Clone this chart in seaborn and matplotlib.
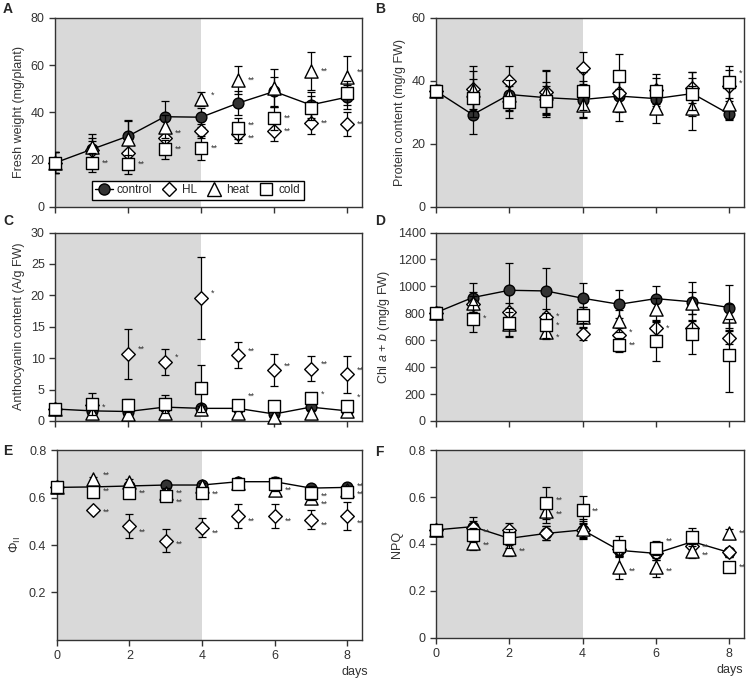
import numpy as np
import pandas as pd
import seaborn as sns
import matplotlib.pyplot as plt
from matplotlib.lines import Line2D

sns.set_style("ticks")
plt.rcParams['font.family'] = ['Liberation Sans', 'DejaVu Sans']
plt.rcParams['mathtext.fontset'] = 'custom'
plt.rcParams['mathtext.rm'] = 'Liberation Sans'
plt.rcParams['mathtext.it'] = 'Liberation Sans:italic'

days = [0, 1, 2, 3, 4, 5, 6, 7, 8]
series_names = ['control', 'HL', 'heat', 'cold']

# A: fresh weight
fw_ctrl = [18.7, 24.4, 30.0, 38.2, 38.0, 43.9, 48.9, 43.2, 46.5]
fw_hl = [18.7, 24.0, 23.0, 29.3, 32.1, 31.0, 32.1, 35.4, 35.1]
fw_heat = [18.7, 25.5, 28.6, 34.0, 45.6, 53.8, 50.3, 57.5, 55.2]
fw_cold = [18.7, 18.7, 18.1, 24.4, 25.0, 33.3, 37.5, 41.8, 48.2]
fw_ctrl_sd = [4.5, 5.0, 7.0, 6.5, 4.0, 5.0, 6.0, 5.5, 5.0]
fw_hl_sd = [4.5, 4.0, 4.0, 4.0, 3.0, 4.0, 4.0, 4.5, 5.0]
fw_heat_sd = [4.5, 5.5, 8.0, 5.0, 3.0, 6.0, 8.0, 8.0, 8.5]
fw_cold_sd = [4.5, 4.0, 4.0, 4.0, 5.0, 4.5, 5.0, 5.0, 5.0]

# B: protein
pr_ctrl = [36.8, 29.3, 35.7, 34.7, 34.1, 35.2, 34.4, 36.0, 29.5]
pr_hl = [36.8, 37.6, 39.9, 36.5, 44.1, 36.3, 37.2, 37.9, 38.5]
pr_heat = [36.8, 37.2, 35.4, 36.2, 32.5, 32.3, 31.5, 31.5, 32.8]
pr_cold = [36.8, 34.6, 33.3, 33.5, 36.7, 41.5, 36.8, 35.8, 39.7]
pr_ctrl_sd = [2, 6, 5, 5, 6, 5, 4, 7, 2]
pr_hl_sd = [2, 7, 5, 7, 5, 5, 5, 5, 5]
pr_heat_sd = [2, 6, 5, 7, 4, 5, 5, 7, 5]
pr_cold_sd = [2, 6, 5, 5, 6, 7, 4, 5, 5]

# C: anthocyanin
an_ctrl = [1.9, 1.6, 1.5, 2.2, 2.0, 2.0, 1.1, 2.2, 1.6]
an_hl = [1.9, 2.5, 10.7, 9.4, 19.6, 10.5, 8.1, 8.3, 7.4]
an_heat = [1.9, 1.3, 1.1, 1.3, 1.9, 1.2, 0.7, 1.3, 1.6]
an_cold = [1.9, 2.7, 2.5, 2.7, 5.2, 2.6, 2.4, 3.6, 2.4]
an_ctrl_sd = [0.3, 0.5, 0.5, 0.5, 0.5, 0.5, 0.4, 0.5, 0.5]
an_hl_sd = [0.3, 1.0, 4.0, 2.1, 6.5, 2.0, 2.6, 2.0, 3.0]
an_heat_sd = [0.3, 0.5, 0.4, 0.5, 0.5, 0.4, 0.3, 0.5, 0.5]
an_cold_sd = [0.3, 1.8, 1.0, 1.5, 3.7, 0.6, 0.5, 0.8, 0.6]

# D: chlorophyll
ch_ctrl = [805, 917, 971, 966, 912, 867, 909, 885, 843]
ch_hl = [805, 867, 810, 770, 649, 637, 687, 690, 620]
ch_heat = [805, 880, 720, 660, 770, 744, 830, 875, 781]
ch_cold = [805, 761, 731, 710, 786, 563, 595, 645, 488]
ch_ctrl_sd = [40, 110, 200, 170, 110, 105, 95, 145, 165]
ch_hl_sd = [40, 60, 70, 60, 50, 50, 50, 60, 50]
ch_heat_sd = [40, 80, 90, 50, 80, 80, 80, 80, 90]
ch_cold_sd = [40, 100, 110, 90, 60, 50, 150, 150, 270]

# E: PhiII
ph_ctrl = [0.643, 0.645, 0.649, 0.653, 0.653, 0.667, 0.667, 0.640, 0.643]
ph_hl = [0.643, 0.548, 0.479, 0.419, 0.472, 0.523, 0.523, 0.506, 0.523]
ph_heat = [0.643, 0.678, 0.667, 0.620, 0.650, 0.660, 0.630, 0.600, 0.630]
ph_cold = [0.643, 0.625, 0.618, 0.605, 0.618, 0.656, 0.656, 0.618, 0.625]
ph_ctrl_sd = [0.01, 0.01, 0.01, 0.01, 0.01, 0.01, 0.01, 0.01, 0.01]
ph_hl_sd = [0.01, 0.01, 0.05, 0.05, 0.04, 0.05, 0.05, 0.04, 0.06]
ph_heat_sd = [0.01, 0.01, 0.01, 0.02, 0.01, 0.01, 0.02, 0.02, 0.02]
ph_cold_sd = [0.01, 0.015, 0.015, 0.02, 0.02, 0.02, 0.03, 0.03, 0.02]

# F: NPQ
nq_ctrl = [0.460, 0.474, 0.424, 0.445, 0.460, 0.373, 0.360, 0.410, 0.364]
nq_hl = [0.460, 0.470, 0.460, 0.447, 0.460, 0.380, 0.360, 0.390, 0.364]
nq_heat = [0.460, 0.405, 0.380, 0.540, 0.465, 0.300, 0.300, 0.370, 0.445]
nq_cold = [0.460, 0.440, 0.424, 0.575, 0.545, 0.393, 0.382, 0.430, 0.300]
nq_ctrl_sd = [0.01, 0.04, 0.03, 0.03, 0.04, 0.03, 0.03, 0.03, 0.02]
nq_hl_sd = [0.01, 0.03, 0.03, 0.03, 0.03, 0.03, 0.03, 0.03, 0.02]
nq_heat_sd = [0.01, 0.03, 0.03, 0.05, 0.04, 0.05, 0.04, 0.03, 0.02]
nq_cold_sd = [0.01, 0.03, 0.04, 0.07, 0.06, 0.04, 0.03, 0.04, 0.02]

# significance marks: (series, day, text, vertical offset in points)
fw_stars = [('cold', 1, '**', 0), ('cold', 2, '**', 0), ('HL', 3, '**', 3), ('cold', 3, '**', 0),
            ('heat', 4, '*', 3), ('cold', 4, '**', 0), ('heat', 5, '**', 0), ('cold', 5, '**', 2),
            ('HL', 5, '**', -3), ('cold', 6, '**', 0), ('HL', 6, '**', 0), ('heat', 7, '**', 0),
            ('HL', 7, '**', 0), ('heat', 8, '**', 3), ('HL', 8, '**', 0)]
pr_stars = [('cold', 8, '*', 6), ('cold', 8, '*', -1)]
an_stars = [('cold', 1, '*', -2), ('HL', 2, '**', 3), ('HL', 3, '*', 3), ('HL', 4, '*', 3),
            ('HL', 5, '**', 3), ('cold', 5, '**', 6), ('HL', 6, '**', 3), ('HL', 7, '**', 3),
            ('cold', 7, '*', 3), ('HL', 8, '**', 3), ('cold', 8, '*', 6)]
ch_stars = [('cold', 1, '*', 0), ('HL', 3, '*', 1), ('cold', 3, '*', 0), ('heat', 3, '*', -4),
            ('HL', 5, '*', 2), ('cold', 5, '**', 0), ('HL', 6, '*', 0)]
ph_stars = [('heat', 1, '**', 3), ('cold', 1, '**', 0), ('HL', 1, '**', -2), ('cold', 2, '**', 0),
            ('HL', 2, '**', -4), ('cold', 3, '**', 2), ('cold', 3, '**', -4), ('HL', 3, '**', -3),
            ('cold', 4, '**', -1), ('HL', 4, '**', -4), ('HL', 5, '**', -4), ('heat', 6, '**', 0),
            ('HL', 6, '**', -4), ('cold', 7, '**', -2), ('cold', 7, '**', -8), ('HL', 7, '**', -4),
            ('cold', 8, '**', 4), ('cold', 8, '**', -2), ('HL', 8, '**', -5)]
nq_stars = [('cold', 1, '**', 2), ('heat', 1, '**', -2), ('heat', 2, '**', -2), ('cold', 3, '**', 2),
            ('heat', 3, '**', -2), ('cold', 4, '**', -1), ('heat', 5, '**', -3), ('cold', 6, '**', 5),
            ('heat', 6, '**', -3), ('heat', 7, '**', 3), ('heat', 7, '**', -3), ('heat', 8, '**', 0),
            ('cold', 8, '**', 0)]

styles = {
    'control': dict(marker='o', facecolor='#333333', s=60),
    'HL': dict(marker='D', facecolor='white', s=48),
    'heat': dict(marker='^', facecolor='white', s=90),
    'cold': dict(marker='s', facecolor='white', s=68),
}

panels = [
    ('A', [fw_ctrl, fw_hl, fw_heat, fw_cold], [fw_ctrl_sd, fw_hl_sd, fw_heat_sd, fw_cold_sd],
     fw_stars, 'Fresh weight (mg/plant)', (0, 80), [0, 20, 40, 60, 80], ['0', '20', '40', '60', '80']),
    ('B', [pr_ctrl, pr_hl, pr_heat, pr_cold], [pr_ctrl_sd, pr_hl_sd, pr_heat_sd, pr_cold_sd],
     pr_stars, 'Protein content (mg/g FW)', (0, 60), [0, 20, 40, 60], ['0', '20', '40', '60']),
    ('C', [an_ctrl, an_hl, an_heat, an_cold], [an_ctrl_sd, an_hl_sd, an_heat_sd, an_cold_sd],
     an_stars, 'Anthocyanin content (A/g FW)', (0, 30), [0, 5, 10, 15, 20, 25, 30],
     ['0', '5', '10', '15', '20', '25', '30']),
    ('D', [ch_ctrl, ch_hl, ch_heat, ch_cold], [ch_ctrl_sd, ch_hl_sd, ch_heat_sd, ch_cold_sd],
     ch_stars, 'Chl $a$ + $b$ (mg/g FW)', (0, 1400), [0, 200, 400, 600, 800, 1000, 1200, 1400],
     ['0', '200', '400', '600', '800', '1000', '1200', '1400']),
    ('E', [ph_ctrl, ph_hl, ph_heat, ph_cold], [ph_ctrl_sd, ph_hl_sd, ph_heat_sd, ph_cold_sd],
     ph_stars, r'$\Phi_{\mathrm{II}}$', (0, 0.8), [0.2, 0.4, 0.6, 0.8], ['0.2', '0.4', '0.6', '0.8']),
    ('F', [nq_ctrl, nq_hl, nq_heat, nq_cold], [nq_ctrl_sd, nq_hl_sd, nq_heat_sd, nq_cold_sd],
     nq_stars, 'NPQ', (0, 0.8), [0, 0.2, 0.4, 0.6, 0.8], ['0', '0.2', '0.4', '0.6', '0.8']),
]

# axes boxes in figure fractions [left, bottom, width, height]
boxes = {
    'A': [0.0740, 0.6956, 0.4110, 0.2780],
    'B': [0.5845, 0.6956, 0.4125, 0.2780],
    'C': [0.0740, 0.3810, 0.4110, 0.2770],
    'D': [0.5845, 0.3810, 0.4125, 0.2770],
    'E': [0.0760, 0.0590, 0.4090, 0.2790],
    'F': [0.5845, 0.0620, 0.4125, 0.2760],
}
letter_pos = {'A': (0.004, 0.997), 'B': (0.503, 0.997), 'C': (0.004, 0.685),
              'D': (0.503, 0.685), 'E': (0.004, 0.347), 'F': (0.503, 0.345)}
days_pos = {'E': 0.977, 'F': 0.955}

fig = plt.figure(figsize=(7.46, 6.8), dpi=100)

for letter, values, sds, stars, ylabel, ylim, yticks, yticklabels in panels:
    ax = fig.add_axes(boxes[letter])
    ax.axvspan(0, 4, color='#d9d9d9', lw=0, zorder=0)

    for i, name in enumerate(series_names):
        z = 3 + i
        st = styles[name]
        ax.errorbar(days, values[i], yerr=sds[i], fmt='none', ecolor='black',
                    elinewidth=0.9, capsize=3, capthick=0.9, zorder=z - 0.5)
        if name == 'control':
            sns.lineplot(x=days, y=values[i], color='black', lw=1, ax=ax, zorder=z - 0.4)
        sns.scatterplot(x=days, y=values[i], marker=st['marker'], s=st['s'],
                        color=st['facecolor'], edgecolor='black', linewidth=1,
                        ax=ax, zorder=z, clip_on=False)

    series_vals = dict(zip(series_names, values))
    for name, d, txt, dy in stars:
        ax.annotate(txt, xy=(d, series_vals[name][d]), xytext=(7, dy),
                    textcoords='offset points', ha='left', va='center',
                    fontsize=6.5, color='#333333', zorder=10)

    ax.set_xlim(0, 8.4)
    ax.set_ylim(*ylim)
    ax.set_xticks([0, 2, 4, 6, 8])
    ax.set_yticks(yticks)
    ax.set_yticklabels(yticklabels)
    if letter in ('E', 'F'):
        ax.set_xticklabels(['0', '2', '4', '6', '8'])
        ax.text(days_pos[letter], -0.17, 'days', transform=ax.transAxes, ha='center', va='center',
                fontsize=9, color='#333333')
    else:
        ax.set_xticklabels([])
    ax.set_ylabel(ylabel, fontsize=9.5 if letter == 'E' else 9, color='#333333')
    ax.tick_params(axis='both', labelsize=9, colors='#333333', length=4, width=1, direction='out')
    for sp in ax.spines.values():
        sp.set_color('#333333')
        sp.set_linewidth(1)
    ax.set_xlabel('')
    fig.text(letter_pos[letter][0], letter_pos[letter][1], letter, fontsize=10,
             fontweight='bold', ha='left', va='top')

    if letter == 'A':
        handles = [Line2D([], [], color='black', lw=1, marker='o', markersize=8,
                          markerfacecolor='#333333', markeredgecolor='black')]
        for name in series_names[1:]:
            st = styles[name]
            handles.append(Line2D([], [], lw=0, marker=st['marker'],
                                  markersize=np.sqrt(st['s']), markerfacecolor='white',
                                  markeredgecolor='black'))
        leg = ax.legend(handles, series_names, loc='lower center', bbox_to_anchor=(0.465, 0.037),
                        ncol=4, frameon=True, fancybox=False, framealpha=1, edgecolor='black',
                        fontsize=8.5, handlelength=1.5, handletextpad=0.3, columnspacing=0.7,
                        borderpad=0.3, borderaxespad=0)
        leg.get_frame().set_linewidth(1)
        leg.set_zorder(20)

fig.savefig('out.png', dpi=100)
